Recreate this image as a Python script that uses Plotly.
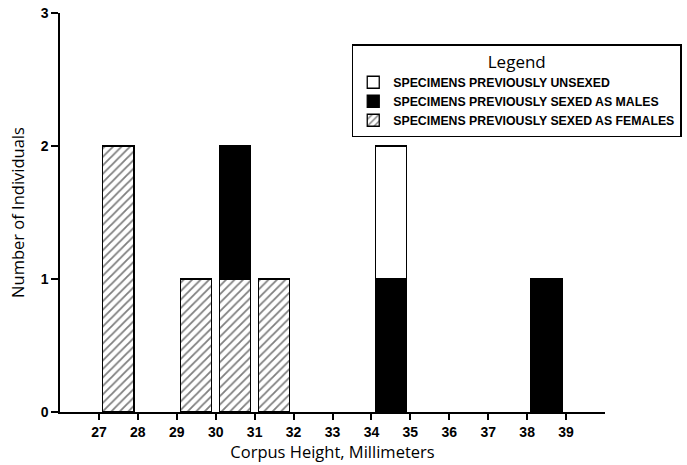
import plotly.graph_objects as go

# Data
bin_start = [27, 29, 30, 31, 34, 38]
females = [2, 1, 1, 1, 0, 0]
males = [0, 0, 1, 0, 1, 1]
unsexed = [0, 0, 0, 0, 1, 0]
x_ticks = list(range(27, 40))
y_ticks = [0, 1, 2, 3]

centers = [b + 0.5 for b in bin_start]

def nz(vals):
    return [v if v else None for v in vals]

fig = go.Figure()
fig.add_trace(go.Bar(
    x=centers, y=nz(females), width=0.8,
    name="SPECIMENS PREVIOUSLY SEXED AS FEMALES",
    marker=dict(color="white", line=dict(color="black", width=1.3),
                pattern=dict(shape="/", fgcolor="black", bgcolor="white", size=6, solidity=0.3)),
))
fig.add_trace(go.Bar(
    x=centers, y=nz(males), width=0.8,
    name="SPECIMENS PREVIOUSLY SEXED AS MALES",
    marker=dict(color="black", line=dict(color="black", width=1.3)),
))
fig.add_trace(go.Bar(
    x=centers, y=nz(unsexed), width=0.8,
    name="SPECIMENS PREVIOUSLY UNSEXED",
    marker=dict(color="white", line=dict(color="black", width=1.3)),
))

fig.update_layout(
    width=687, height=465,
    barmode="stack",
    plot_bgcolor="white", paper_bgcolor="white",
    margin=dict(l=60, r=81.5, t=13, b=53, autoexpand=False),
    showlegend=True,
    legend=dict(
        xref="container", yref="container",
        x=0.512, y=0.905, xanchor="left", yanchor="top",
        traceorder="reversed",
        bordercolor="black", borderwidth=1.5, bgcolor="white",
        font=dict(family="Liberation Sans", size=12.3, color="black", weight="bold"),
        title=dict(text="Legend", side="top center",
                   font=dict(family="Open Sans", size=17, color="black", weight="normal")),
        itemwidth=30, tracegroupgap=0,
    ),
    xaxis=dict(
        range=[26, 40], tickvals=x_ticks, ticktext=[str(t) for t in x_ticks],
        showline=True, linecolor="black", linewidth=1.5,
        ticks="outside", ticklen=6, tickwidth=1.5, tickcolor="black",
        showgrid=False, zeroline=False,
        tickfont=dict(family="Liberation Sans", size=14, color="black", weight="bold"),
        title=dict(text="Corpus Height, Millimeters", standoff=6,
                   font=dict(family="Open Sans", size=16.5, color="black")),
    ),
    yaxis=dict(
        range=[0, 3], tickvals=y_ticks,
        showline=True, linecolor="black", linewidth=1.5,
        ticks="outside", ticklen=7, tickwidth=1.5, tickcolor="black",
        showgrid=False, zeroline=False,
        tickfont=dict(family="Liberation Sans", size=14, color="black", weight="bold"),
        title=dict(text="Number of Individuals", standoff=12,
                   font=dict(family="Open Sans", size=16.5, color="black")),
    ),
)

fig.write_html("out.html")
